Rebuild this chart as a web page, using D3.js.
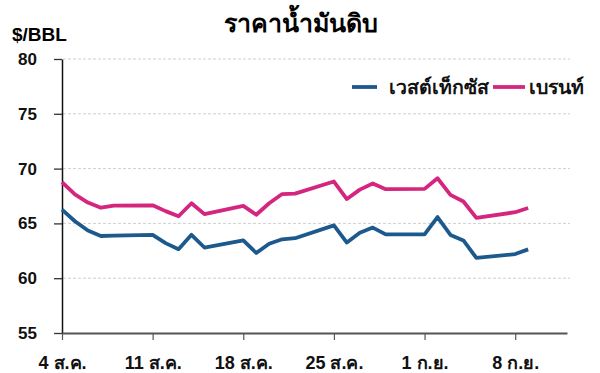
<!DOCTYPE html>
<html>
<head>
<meta charset="utf-8">
<style>
  body { margin: 0; background: #fff; }
  svg { display: block; font-family: "Liberation Sans", Arial, sans-serif; font-weight: bold; }
</style>
</head>
<body>
<svg class="oil-chart" width="600" height="373"></svg>

<script src="https://cdnjs.cloudflare.com/ajax/libs/d3/7.8.5/d3.min.js"></script>
<script>
  // trading days shown on the chart
  const dates = [
    "2025-08-04", "2025-08-05", "2025-08-06", "2025-08-07", "2025-08-08",
    "2025-08-11", "2025-08-12", "2025-08-13", "2025-08-14", "2025-08-15",
    "2025-08-18", "2025-08-19", "2025-08-20", "2025-08-21", "2025-08-22",
    "2025-08-25", "2025-08-26", "2025-08-27", "2025-08-28", "2025-08-29",
    "2025-09-01", "2025-09-02", "2025-09-03", "2025-09-04", "2025-09-05",
    "2025-09-08", "2025-09-09"
  ];

  const wti = [
    66.25, 65.2, 64.35, 63.85, 63.88,
    63.96, 63.2, 62.65, 63.96, 62.8,
    63.45, 62.3, 63.15, 63.55, 63.65,
    64.82, 63.25, 64.15, 64.62, 64.0,
    64.0, 65.58, 63.95, 63.45, 61.85,
    62.2, 62.63
  ];

  const brent = [
    68.76, 67.64, 66.9, 66.43, 66.62,
    66.65, 66.12, 65.65, 66.84, 65.85,
    66.6, 65.79, 66.84, 67.68, 67.72,
    68.82, 67.22, 68.08, 68.64, 68.12,
    68.15, 69.12, 67.6, 67.0, 65.5,
    66.02, 66.4
  ];

  const yTicks = [55, 60, 65, 70, 75, 80];
  const xTickDates = ["2025-08-04", "2025-08-11", "2025-08-18", "2025-08-25", "2025-09-01", "2025-09-08"];
  const xTickLabels = ["4 ส.ค.", "11 ส.ค.", "18 ส.ค.", "25 ส.ค.", "1 ก.ย.", "8 ก.ย."];

  const seriesNames = ["เวสต์เท็กซัส", "เบรนท์"];
  const seriesColors = ["#1c5a8e", "#d4267f"];

  const parse = d3.timeParse("%Y-%m-%d");
  const svg = d3.select("svg.oil-chart");

  const x = d3.scaleTime()
    .domain([parse("2025-08-04"), parse("2025-09-12")])
    .range([62, 567]);

  const y = d3.scaleLinear()
    .domain([55, 80])
    .range([333, 59]);

  // title + unit
  svg.append("text")
    .attr("x", 301).attr("y", 32)
    .attr("text-anchor", "middle")
    .attr("font-size", 25)
    .text("ราคาน้ำมันดิบ");

  svg.append("text")
    .attr("x", 12).attr("y", 41)
    .attr("font-size", 19)
    .text("$/BBL");

  // dashed grid
  svg.append("g")
    .selectAll("line")
    .data(yTicks.filter(d => d > 55))
    .join("line")
    .attr("x1", 63).attr("x2", 570)
    .attr("y1", d => y(d)).attr("y2", d => y(d))
    .attr("stroke", "#cfcfcf")
    .attr("stroke-width", 1)
    .attr("stroke-dasharray", "3,2");

  // y axis
  const yAxis = svg.append("g")
    .attr("transform", `translate(${x.range()[0]},0)`)
    .call(d3.axisLeft(y).tickValues(yTicks).tickSize(8).tickPadding(17).tickSizeOuter(0));
  yAxis.select(".domain").attr("stroke", "#111").attr("stroke-width", 1.5);
  yAxis.selectAll(".tick line").attr("stroke", "#333").attr("stroke-width", 1.3);
  yAxis.selectAll(".tick text")
    .attr("font-size", 17).attr("font-family", "Liberation Sans, Arial, sans-serif")
    .attr("font-weight", "bold").attr("fill", "#111");

  // x axis
  const xAxis = svg.append("g")
    .attr("transform", `translate(0,${y(55)})`)
    .call(d3.axisBottom(x)
      .tickValues(xTickDates.map(parse))
      .tickFormat((d, i) => xTickLabels[i])
      .tickSize(7).tickPadding(16).tickSizeOuter(0));
  xAxis.select(".domain").attr("stroke", "#555").attr("stroke-width", 2);
  xAxis.selectAll(".tick line").attr("stroke", "#555").attr("stroke-width", 1.2);
  xAxis.selectAll(".tick text")
    .attr("font-size", 18).attr("font-family", "Liberation Sans, Arial, sans-serif")
    .attr("font-weight", "bold").attr("fill", "#111");

  // lines
  const line = d3.line()
    .x((d, i) => x(parse(dates[i])))
    .y(d => y(d));

  [wti, brent].forEach((values, k) => {
    svg.append("path")
      .datum(values)
      .attr("fill", "none")
      .attr("stroke", seriesColors[k])
      .attr("stroke-width", 3.8)
      .attr("stroke-linejoin", "round")
      .attr("d", line);
  });

  // legend
  const legend = svg.append("g");
  const legendItems = [
    { x1: 352, x2: 377, tx: 389 },
    { x1: 493, x2: 525, tx: 529 }
  ];
  legendItems.forEach((it, k) => {
    legend.append("line")
      .attr("x1", it.x1).attr("x2", it.x2)
      .attr("y1", 87).attr("y2", 87)
      .attr("stroke", seriesColors[k])
      .attr("stroke-width", 3.8);
    legend.append("text")
      .attr("x", it.tx).attr("y", 94)
      .attr("font-size", 19.5)
      .attr("fill", "#111")
      .text(seriesNames[k]);
  });
</script>
</body>
</html>
